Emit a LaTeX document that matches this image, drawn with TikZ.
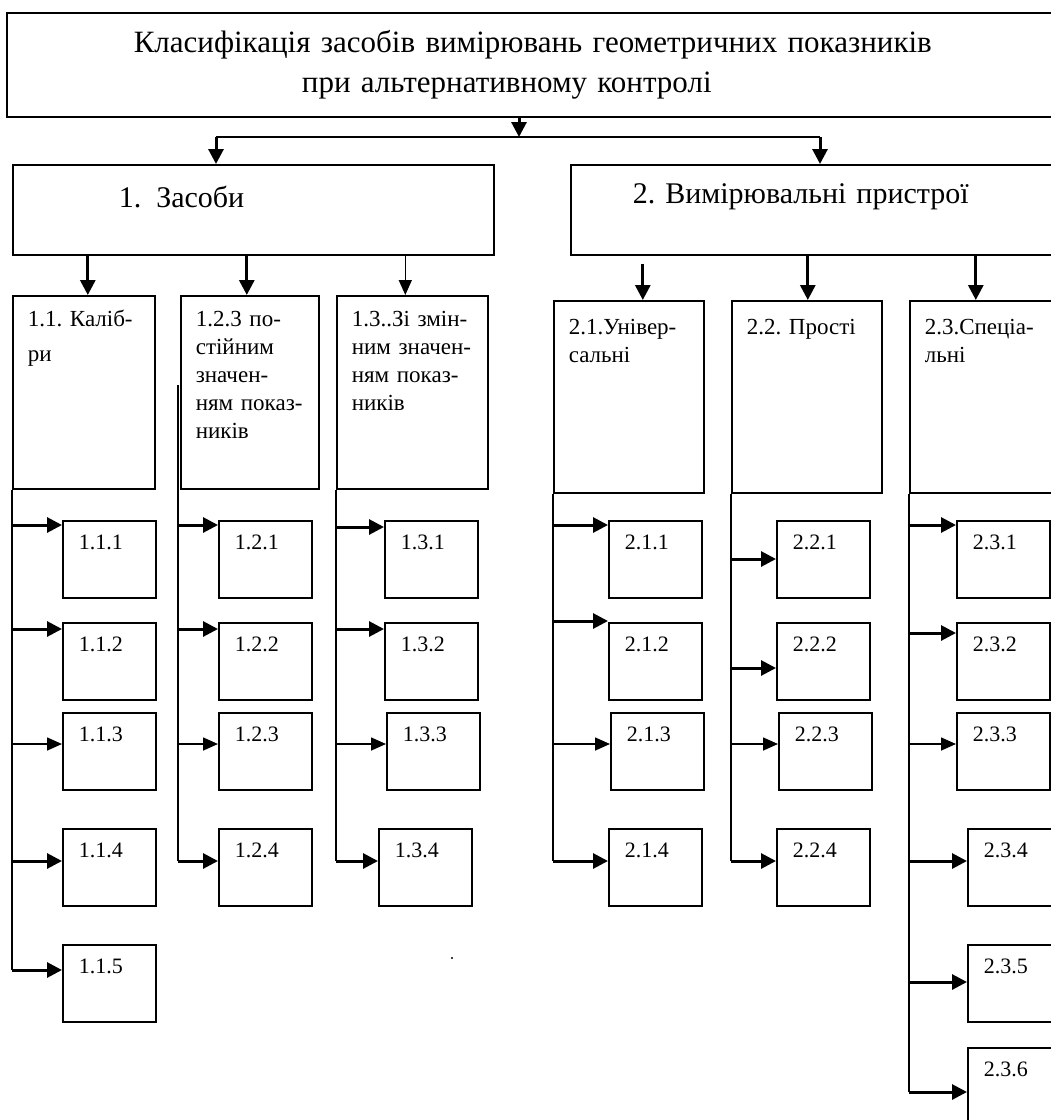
\documentclass[tikz,border=0pt]{standalone}
\usepackage{fontspec}
\setmainfont{Liberation Serif}
\usetikzlibrary{arrows.meta,calc,positioning}

\begin{document}
\begin{tikzpicture}[
  x=1pt, y=-1pt,
  box/.style={
    draw,
    line width=1.6pt,
    anchor=north west,
    align=left,
    inner ysep=4pt
  },
  titlebox/.style={
    box,
    align=center,
    inner xsep=20pt,
    text width=1060pt,
    text height=36pt,
    text depth=60pt,
    font=\fontsize{31}{40}\selectfont
  },
  groupbox/.style={
    box,
    text height=35pt,
    text depth=47pt,
    font=\fontsize{30}{36}\selectfont
  },
  kindbox/.style={
    box,
    inner xsep=15pt,
    text height=27pt,
    text depth=158pt,
    font=\fontsize{23}{28}\selectfont
  },
  itembox/.style={
    box,
    inner xsep=16pt,
    text width=61pt,
    text height=25pt,
    text depth=44pt,
    font=\fontsize{22}{26}\selectfont
  },
  bus/.style={
    line width=1.6pt
  },
  arrow/.style={
    -{Triangle[length=15pt,width=15pt]},
    line width=3pt
  },
  thin arrow/.style={
    -{Triangle[length=15pt,width=13pt]},
    line width=1.6pt
  }
]
\useasboundingbox (0,0) rectangle (1051,1120);
\clip (0,0) rectangle (1051,1120);

% Заголовок
\node[titlebox] (title) at (6,12)
  {Класифікація засобів вимірювань геометричних показників\hspace{48pt}\mbox{}\\
   при альтернативному контролі\hspace{100pt}\mbox{}};

% Групи засобів
\node[groupbox, inner xsep=106pt, text width=269pt,
  text height=39pt, text depth=43pt] (tools) at (12,164)
  {1. Засоби};

\node[groupbox, inner xsep=62pt, text width=380pt] (devices) at (570,164)
  {2.~Вимірювальні~пристрої};

% Види
\node[kindbox, text width=112pt] (k11) at (12,295)
  {1.1.~Каліб-\\[7pt]ри};
\node[kindbox, text width=108pt] (k12) at (180,295)
  {1.2.3~по-\\стійним\\значен-\\ням~показ-\\ників};
\node[kindbox, text width=121pt] (k13) at (336,295)
  {1.3..Зі~змін-\\ним~значен-\\ням~показ-\\ників};

\node[kindbox, text width=120pt, text height=30pt, text depth=154pt] (k21) at (553,300)
  {2.1.Універ-\\сальні};
\node[kindbox, text width=120pt, text height=30pt, text depth=154pt] (k22) at (731,300)
  {2.2.~Прості};
\node[kindbox, text width=120pt, text height=30pt, text depth=154pt] (k23) at (909,300)
  {2.3.Спеціа-\\льні};

% Елементи 1.1
\node[itembox] (i111) at (62,520) {1.1.1};
\node[itembox] (i112) at (62,622) {1.1.2};
\node[itembox] (i113) at (62,712) {1.1.3};
\node[itembox] (i114) at (62,828) {1.1.4};
\node[itembox] (i115) at (62,944) {1.1.5};

% Елементи 1.2
\node[itembox] (i121) at (218,520) {1.2.1};
\node[itembox] (i122) at (218,622) {1.2.2};
\node[itembox] (i123) at (218,712) {1.2.3};
\node[itembox] (i124) at (218,828) {1.2.4};

% Елементи 1.3
\node[itembox] (i131) at (384,520) {1.3.1};
\node[itembox] (i132) at (384,622) {1.3.2};
\node[itembox] (i133) at (386,712) {1.3.3};
\node[itembox] (i134) at (378,828) {1.3.4};

% Елементи 2.1
\node[itembox] (i211) at (608,520) {2.1.1};
\node[itembox] (i212) at (608,622) {2.1.2};
\node[itembox] (i213) at (610,712) {2.1.3};
\node[itembox] (i214) at (608,828) {2.1.4};

% Елементи 2.2
\node[itembox] (i221) at (776,520) {2.2.1};
\node[itembox] (i222) at (776,622) {2.2.2};
\node[itembox] (i223) at (778,712) {2.2.3};
\node[itembox] (i224) at (776,828) {2.2.4};

% Елементи 2.3
\node[itembox] (i231) at (956,520) {2.3.1};
\node[itembox] (i232) at (956,622) {2.3.2};
\node[itembox] (i233) at (956,712) {2.3.3};
\node[itembox] (i234) at (967,828) {2.3.4};
\node[itembox] (i235) at (967,944) {2.3.5};
\node[itembox] (i236) at (967,1047) {2.3.6};

% Заголовок -> групи
\coordinate (fork) at (519,137);
\coordinate (forkL) at (216,137);
\coordinate (forkR) at (820,137);
\draw[arrow] (title.south -| fork) -- (fork);
\draw[bus] (forkL) -- (forkR);
\draw[arrow] (forkL) -- (forkL |- tools.north);
\draw[arrow] (forkR) -- (forkR |- devices.north);

% Групи -> види
\draw[arrow] ([xshift=4pt]k11.north |- tools.south) -- ([xshift=4pt]k11.north);
\draw[arrow] ([xshift=-3pt]k12.north |- tools.south) -- ([xshift=-3pt]k12.north);
\draw[thin arrow] ([xshift=-7pt]k13.north |- tools.south) -- ([xshift=-7pt]k13.north);
\draw[arrow] ([xshift=14pt,yshift=-8pt]k21.north |- devices.south) -- ([xshift=14pt]k21.north);
\draw[arrow] ([xshift=1pt]k22.north |- devices.south) -- ([xshift=1pt]k22.north);
\draw[arrow] ([xshift=-9pt]k23.north |- devices.south) -- ([xshift=-9pt]k23.north);

% Шина 1.1
\draw[bus] (k11.south west) -- ([yshift=-26pt]i115.north west -| k11.west);
\draw[arrow] ([yshift=-5pt]i111.north west -| k11.west) -- ([yshift=-5pt]i111.north west);
\draw[arrow] ([yshift=-7pt]i112.north west -| k11.west) -- ([yshift=-7pt]i112.north west);
\draw[thin arrow] ([yshift=-32pt]i113.north west -| k11.west) -- ([yshift=-32pt]i113.north west);
\draw[arrow] ([yshift=-33pt]i114.north west -| k11.west) -- ([yshift=-33pt]i114.north west);
\draw[arrow] ([yshift=-26pt]i115.north west -| k11.west) -- ([yshift=-26pt]i115.north west);

% Шина 1.2
\draw[bus] ([xshift=-2pt,yshift=-90pt]k12.north west) -- ([xshift=-2pt,yshift=-33pt]i124.north west -| k12.west);
\draw[arrow] ([xshift=-2pt,yshift=-5pt]i121.north west -| k12.west) -- ([yshift=-5pt]i121.north west);
\draw[arrow] ([xshift=-2pt,yshift=-7pt]i122.north west -| k12.west) -- ([yshift=-7pt]i122.north west);
\draw[thin arrow] ([xshift=-2pt,yshift=-32pt]i123.north west -| k12.west) -- ([yshift=-32pt]i123.north west);
\draw[arrow] ([xshift=-2pt,yshift=-33pt]i124.north west -| k12.west) -- ([yshift=-33pt]i124.north west);

% Шина 1.3
\draw[bus] (k13.south west) -- ([yshift=-33pt]i134.north west -| k13.west);
\draw[arrow] ([yshift=-7pt]i131.north west -| k13.west) -- ([yshift=-7pt]i131.north west);
\draw[arrow] ([yshift=-7pt]i132.north west -| k13.west) -- ([yshift=-7pt]i132.north west);
\draw[thin arrow] ([yshift=-32pt]i133.north west -| k13.west) -- ([yshift=-32pt]i133.north west);
\draw[arrow] ([yshift=-33pt]i134.north west -| k13.west) -- ([yshift=-33pt]i134.north west);

% Шина 2.1
\draw[bus] (k21.south west) -- ([yshift=-33pt]i214.north west -| k21.west);
\draw[arrow] ([yshift=-5pt]i211.north west -| k21.west) -- ([yshift=-5pt]i211.north west);
\draw[arrow] ([yshift=1pt]i212.north west -| k21.west) -- ([yshift=1pt]i212.north west);
\draw[thin arrow] ([yshift=-32pt]i213.north west -| k21.west) -- ([yshift=-32pt]i213.north west);
\draw[arrow] ([yshift=-33pt]i214.north west -| k21.west) -- ([yshift=-33pt]i214.north west);

% Шина 2.2
\draw[bus] (k22.south west) -- ([yshift=-33pt]i224.north west -| k22.west);
\draw[arrow] ([yshift=-39pt]i221.north west -| k22.west) -- ([yshift=-39pt]i221.north west);
\draw[arrow] ([yshift=-46pt]i222.north west -| k22.west) -- ([yshift=-46pt]i222.north west);
\draw[thin arrow] ([yshift=-32pt]i223.north west -| k22.west) -- ([yshift=-32pt]i223.north west);
\draw[arrow] ([yshift=-33pt]i224.north west -| k22.west) -- ([yshift=-33pt]i224.north west);

% Шина 2.3
\draw[bus] (k23.south west) -- ([yshift=-45pt]i236.north west -| k23.west);
\draw[arrow] ([yshift=-5pt]i231.north west -| k23.west) -- ([yshift=-5pt]i231.north west);
\draw[arrow] ([yshift=-11pt]i232.north west -| k23.west) -- ([yshift=-11pt]i232.north west);
\draw[thin arrow] ([yshift=-32pt]i233.north west -| k23.west) -- ([yshift=-32pt]i233.north west);
\draw[arrow] ([yshift=-33pt]i234.north west -| k23.west) -- ([yshift=-33pt]i234.north west);
\draw[arrow] ([yshift=-38pt]i235.north west -| k23.west) -- ([yshift=-38pt]i235.north west);
\draw[arrow] ([yshift=-45pt]i236.north west -| k23.west) -- ([yshift=-45pt]i236.north west);

% Крапка
\fill (452,958) circle (1.2pt);

\end{tikzpicture}
\end{document}
